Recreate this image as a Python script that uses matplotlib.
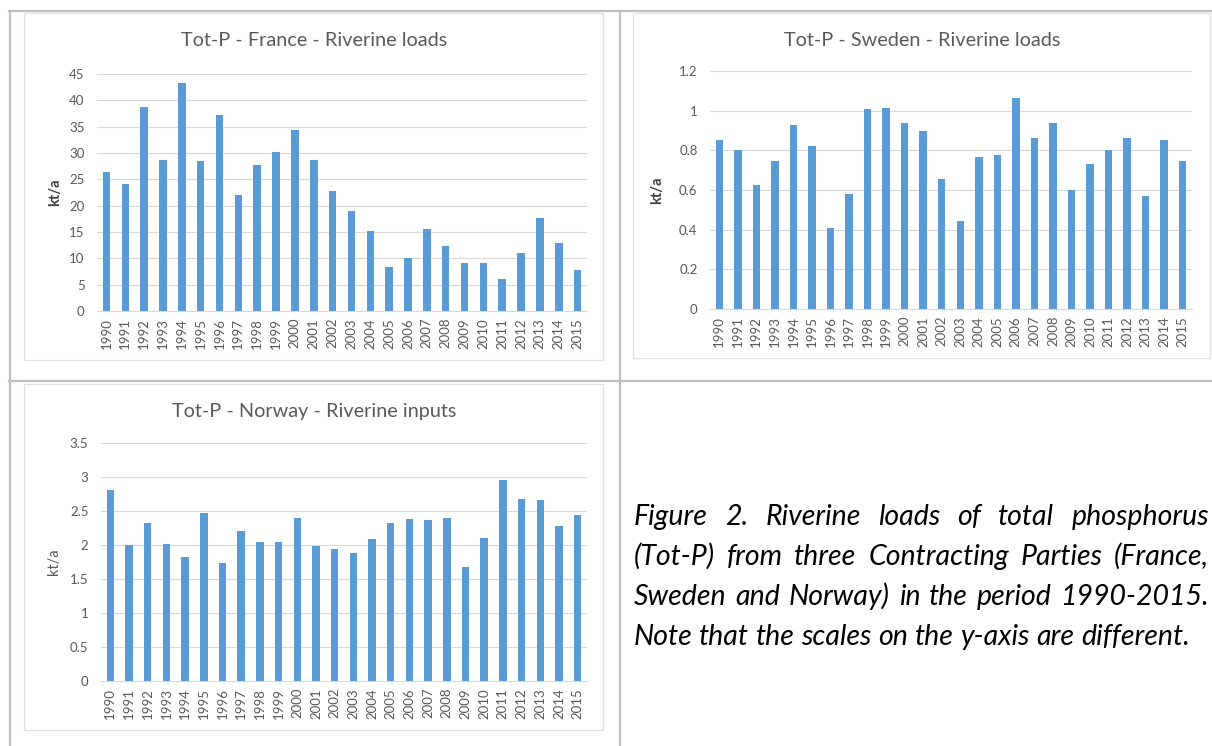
# -*- coding: utf-8 -*-
# Tot-P riverine loads, three panels in a table with a caption

import numpy as np
import matplotlib
matplotlib.use("Agg")
import matplotlib.pyplot as plt
from matplotlib.lines import Line2D
from matplotlib.patches import Rectangle
from matplotlib.ticker import MultipleLocator, FuncFormatter

plt.rcParams['font.family'] = 'Lato'

### 0 ### Data

years = [str(y) for y in range(1990, 2016)]

france = [26.3, 24.2, 38.7, 28.6, 43.2, 28.5, 37.3, 22.0, 27.8, 30.2,
          34.4, 28.6, 22.8, 19.0, 15.2, 8.3, 10.1, 15.6, 12.3, 9.1,
          9.2, 6.1, 11.0, 17.6, 12.9, 7.7]

sweden = [0.854, 0.802, 0.626, 0.745, 0.930, 0.824, 0.408, 0.582, 1.009, 1.015,
          0.937, 0.898, 0.653, 0.443, 0.765, 0.777, 1.066, 0.863, 0.938, 0.598,
          0.732, 0.802, 0.863, 0.569, 0.853, 0.745]

norway = [2.81, 2.00, 2.32, 2.02, 1.82, 2.47, 1.73, 2.21, 2.04, 2.04,
          2.39, 1.99, 1.94, 1.88, 2.09, 2.32, 2.38, 2.37, 2.40, 1.68,
          2.11, 2.96, 2.68, 2.66, 2.28, 2.44]

titles = ["Tot-P - France - Riverine loads",
          "Tot-P - Sweden - Riverine loads",
          "Tot-P - Norway - Riverine inputs"]

caption = ["Figure 2. Riverine loads of total phosphorus",
           "(Tot-P) from three Contracting Parties (France,",
           "Sweden and Norway) in the period 1990-2015.",
           "Note that the scales on the y-axis are different."]

### 1 ### Figure and helpers

W, H = 1212, 746
fig = plt.figure(figsize=(W / 100, H / 100), dpi=100)
fig.patch.set_facecolor('white')

def fx(px):
    return px / W

def fy(py):
    return 1 - py / H

bar_col = '#5B9BD5'
grid_col = '#D9D9D9'
text_col = '#595959'
table_col = '#BFBFBF'

# table lines
for (x0, y0, x1, y1) in [(9, 11, 1212, 11), (9, 381.5, 1212, 381.5),
                         (9.5, 11, 9.5, 746), (620, 11, 620, 746)]:
    fig.add_artist(Line2D([fx(x0), fx(x1)], [fy(y0), fy(y1)],
                          color=table_col, lw=1.6))

# chart frames
for (x0, y0, x1, y1) in [(24, 13, 603, 360), (633, 13, 1210, 358),
                         (24, 384, 603, 730)]:
    fig.add_artist(Rectangle((fx(x0), fy(y1)), fx(x1) - fx(x0), fy(y0) - fy(y1),
                             fill=False, edgecolor='#E0E0E0', lw=0.9))

### 2 ### Bar charts

panels = [
    # data, title, (left, top, right, bottom) px, ymax, step, title centre, ylabel x, bold
    (france, titles[0], (97, 74, 587, 311), 45, 5, (314, 40), 55, 'bold'),
    (sweden, titles[1], (710, 71, 1192, 309), 1.2, 0.2, (922, 40), 657, 'bold'),
    (norway, titles[2], (101, 443, 587, 681), 3.5, 0.5, (314, 411), 54, 'normal'),
]

i = np.arange(len(years))
for vals, title, (l, t, r, b), ymax, step, (tx, ty), ylx, weight in panels:
    ax = fig.add_axes([fx(l), fy(b), fx(r) - fx(l), fy(t) - fy(b)])
    ax.bar(i, vals, 0.4, color=bar_col, zorder=3)
    ax.set_xlim(-0.5, len(years) - 0.5)
    ax.set_ylim(0, ymax)
    ax.yaxis.set_major_locator(MultipleLocator(step))
    ax.yaxis.set_major_formatter(FuncFormatter(lambda v, p: '%g' % round(v, 3)))
    ax.yaxis.grid(True, color=grid_col, lw=0.8, zorder=0)
    ax.set_xticks(i)
    ax.set_xticklabels(years, rotation=90, va='top')
    ax.tick_params(axis='both', length=0, labelsize=9.5, labelcolor=text_col)
    ax.tick_params(axis='y', pad=9)
    ax.tick_params(axis='x', pad=5)
    for s in ['top', 'right', 'left']:
        ax.spines[s].set_visible(False)
    ax.spines['bottom'].set_color(grid_col)
    ax.spines['bottom'].set_linewidth(0.8)
    ax.set_facecolor('none')
    fig.text(fx(tx), fy(ty), title, ha='center', va='center',
             fontsize=14.3, color=text_col)
    fig.text(fx(ylx), fy((t + b) / 2), 'kt/a', rotation=90, ha='center',
             va='center', fontsize=10.5, color=text_col if weight == 'normal' else '#404040',
             fontweight=weight)

### 3 ### Caption (justified)

renderer = fig.canvas.get_renderer()
cap_left, cap_right = 634, 1209
base_y = [525, 565, 605, 645]
cap_size = 15.5

# fit the font size so that the last line has its width in the picture
probe = fig.text(0, 0, caption[3], fontsize=cap_size, style='italic')
w_last = probe.get_window_extent(renderer).width
probe.remove()
cap_size = cap_size * 554 / w_last

for n, line in enumerate(caption):
    words = line.split(' ')
    items = [fig.text(0, fy(base_y[n]), w, fontsize=cap_size, style='italic',
                      color='black', va='baseline') for w in words]
    widths = [it.get_window_extent(renderer).width for it in items]
    if n < len(caption) - 1:
        gap = (cap_right - cap_left - sum(widths)) / (len(words) - 1)
    else:
        sp = fig.text(0, 0, 'a a', fontsize=cap_size, style='italic')
        sp2 = fig.text(0, 0, 'aa', fontsize=cap_size, style='italic')
        gap = sp.get_window_extent(renderer).width - sp2.get_window_extent(renderer).width
        sp.remove()
        sp2.remove()
    x = cap_left
    for it, wd in zip(items, widths):
        it.set_x(fx(x))
        x += wd + gap

plt.savefig('out.png', dpi=100, facecolor='white')
